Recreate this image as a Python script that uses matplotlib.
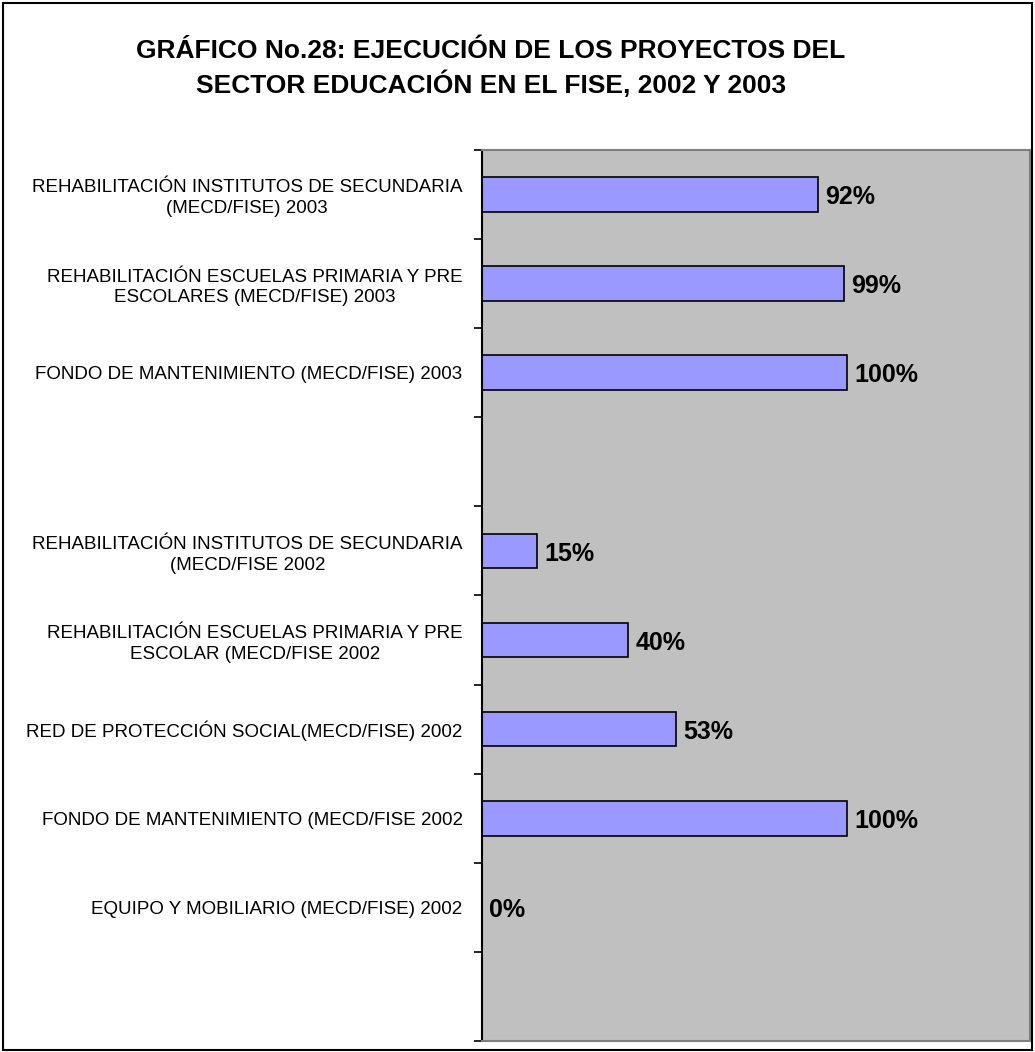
import matplotlib.pyplot as plt
from matplotlib.patches import Rectangle

plt.rcParams['font.family'] = ['Liberation Sans', 'DejaVu Sans']

labels_2003 = ["REHABILITACIÓN INSTITUTOS DE SECUNDARIA\n(MECD/FISE) 2003",
               "REHABILITACIÓN ESCUELAS PRIMARIA Y PRE\nESCOLARES (MECD/FISE) 2003",
               "FONDO DE MANTENIMIENTO (MECD/FISE) 2003"]
values_2003 = [0.92, 0.99, 1.00]

labels_2002 = ["REHABILITACIÓN INSTITUTOS DE SECUNDARIA\n(MECD/FISE 2002",
               "REHABILITACIÓN ESCUELAS PRIMARIA Y PRE\nESCOLAR (MECD/FISE 2002",
               "RED DE PROTECCIÓN SOCIAL(MECD/FISE) 2002",
               "FONDO DE MANTENIMIENTO (MECD/FISE 2002",
               "EQUIPO Y MOBILIARIO (MECD/FISE) 2002"]
values_2002 = [0.15, 0.40, 0.53, 1.00, 0.00]

# slot list top to bottom, empty slot between years and one at the end
labels = labels_2003 + [""] + labels_2002 + [""]
values = values_2003 + [None] + values_2002 + [None]

fig = plt.figure(figsize=(10.35, 10.52), dpi=100)
fig.patches.append(Rectangle((0.003, 0.002), 0.994, 0.995, transform=fig.transFigure,
                             fill=False, edgecolor='black', linewidth=1.5))

ax = fig.add_axes([0.4657, 0.0105, 0.5295, 0.847])
ax.set_facecolor('#C0C0C0')

n = len(labels)
pos = list(range(n))
for i, v in enumerate(values):
    if v is None:
        continue
    ax.barh(i, v, height=0.39, color='#9999FF', edgecolor='black', linewidth=1.2)
    ax.text(v + 0.02, i + 0.03, f"{v:.0%}", va='center', ha='left',
            fontsize=18, fontweight='bold')

ax.set_ylim(n - 0.5, -0.5)
ax.set_xlim(0, 1.5)
ax.set_yticks(pos)
ax.set_yticklabels(labels, fontsize=13.5)
for t in ax.get_yticklabels():
    t.set_multialignment('center')
    t.set_linespacing(1.3)
ax.tick_params(axis='y', which='major', length=0, pad=14)
ax.set_yticks([p - 0.5 for p in range(n + 1)], minor=True)
ax.tick_params(axis='y', which='minor', length=6, width=1.2, direction='out')
ax.set_xticks([])

for s in ['top', 'right', 'bottom']:
    ax.spines[s].set_color('#808080')
    ax.spines[s].set_linewidth(1.5)
ax.spines['left'].set_color('black')
ax.spines['left'].set_linewidth(1.5)

fig.text(0.474, 0.935, "GRÁFICO No.28: EJECUCIÓN DE LOS PROYECTOS DEL\nSECTOR EDUCACIÓN EN EL FISE, 2002 Y 2003",
         ha='center', va='center', fontsize=19, fontweight='bold', linespacing=1.3)

fig.savefig('out.png', dpi=100)
